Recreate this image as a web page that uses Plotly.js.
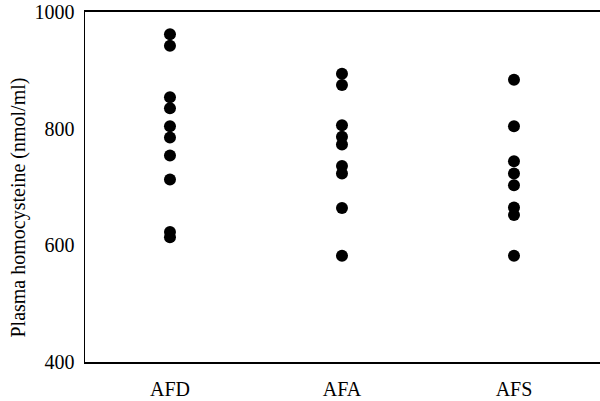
<!DOCTYPE html>
<html>
<head>
<meta charset="utf-8">
<script src="https://cdn.plot.ly/plotly-3.0.1.min.js"></script>
<style>html,body{margin:0;padding:0;background:#fff;}#chart{width:600px;height:401px;}</style>
</head>
<body>
<div id="chart"></div>
<script>
var categories = ["AFD", "AFA", "AFS"];
var afdValues = [962, 942, 854, 835, 804, 785, 754, 713, 623, 614];
var afaValues = [894, 875, 806, 786, 773, 736, 723, 664, 582];
var afsValues = [884, 804, 744, 723, 703, 665, 652, 582];
var yTickVals = [400, 600, 800, 1000];
var yTitle = "Plasma homocysteine (nmol/ml)";

var groups = [afdValues, afaValues, afsValues];
var xs = [], ys = [];
groups.forEach(function (vals, i) {
  vals.forEach(function (v) { xs.push(i); ys.push(v); });
});

var font = {family: "Liberation Serif, Times New Roman, serif", color: "#000"};

var trace = {
  x: xs, y: ys, type: "scatter", mode: "markers",
  marker: {size: 12, color: "#000"},
  hoverinfo: "none"
};

var layout = {
  width: 600, height: 401,
  margin: {l: 85, r: 0, t: 12, b: 39},
  paper_bgcolor: "#fff", plot_bgcolor: "#fff",
  showlegend: false,
  xaxis: {
    range: [-0.494, 2.5],
    tickvals: [0, 1, 2], ticktext: categories,
    showgrid: false, zeroline: false,
    showline: true, mirror: true, linecolor: "#000", linewidth: 2,
    ticks: "", ticklabelstandoff: 8,
    tickfont: Object.assign({size: 20}, font)
  },
  yaxis: {
    range: [400, 1000],
    tickvals: yTickVals,
    showgrid: false, zeroline: false,
    showline: true, linecolor: "#000", linewidth: 1.5,
    ticks: "", ticklabelstandoff: 5,
    tickfont: Object.assign({size: 20}, font)
  },
  annotations: [{
    text: yTitle, xref: "paper", yref: "paper",
    x: -0.131, y: 0.44, xanchor: "center", yanchor: "middle",
    textangle: -90, showarrow: false,
    font: Object.assign({size: 20}, font)
  }]
};

Plotly.newPlot("chart", [trace], layout, {displayModeBar: false, staticPlot: true});
</script>
</body>
</html>
